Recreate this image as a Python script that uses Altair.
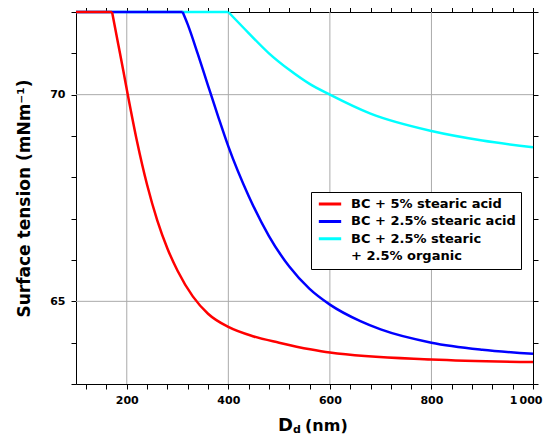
import altair as alt
import pandas as pd

# ---- data ----
series = ["BC + 5% stearic acid", "BC + 2.5% stearic acid", "BC + 2.5% stearic"]
series_cont = "+ 2.5% organic"          # second legend line of the third series
colors = ["#ff0000", "#0000ff", "#00ffff"]

red_x = [100, 171, 183, 193, 202, 220, 240, 260, 280, 300, 330, 360, 400, 450, 500, 561, 600, 800, 1000]
red_y = [72.0, 72.0, 71.23, 70.59, 70.0, 68.88, 67.82, 66.96, 66.28, 65.74, 65.12, 64.70, 64.38,
         64.15, 64.00, 63.84, 63.76, 63.59, 63.53]
blue_x = [100, 310, 320, 340, 360, 380, 400, 440, 480, 520, 560, 600, 660, 700, 800, 900, 1000]
blue_y = [72.0, 72.0, 71.7, 70.98, 70.22, 69.47, 68.75, 67.55, 66.58, 65.84, 65.30, 64.92, 64.52,
          64.32, 64.00, 63.83, 63.73]
cyan_x = [100, 400, 440, 480, 520, 560, 600, 680, 800, 900, 1000]
cyan_y = [72.0, 72.0, 71.49, 71.00, 70.60, 70.26, 70.0, 69.54, 69.12, 68.89, 68.73]

x_ticks = list(range(120, 1001, 40))
y_ticks = list(range(63, 73))
x_grid = [200, 400, 600, 800]
y_grid = [65, 70]
x_domain = [100, 1000]
y_domain = [63, 72]

# ---- build table (cyan first so red is drawn on top) ----
# each curve = flat plateau segment + decreasing segment (sharp corner at the onset)
rows = []
for name, xs_, ys_ in [(series[2], cyan_x, cyan_y), (series[1], blue_x, blue_y), (series[0], red_x, red_y)]:
    for i, (a, b) in enumerate(zip(xs_, ys_)):
        if i <= 1:
            rows.append({"series": name, "seg": name + "|flat", "d": a, "st": b, "i": i})
        if i >= 1:
            rows.append({"series": name, "seg": name + "|drop", "d": a, "st": b, "i": i})
df = pd.DataFrame(rows)

FONT = "DejaVu Sans"
W, H = 457, 372

xs = alt.Scale(domain=x_domain, nice=False, zero=False)
ys = alt.Scale(domain=y_domain, nice=False, zero=False)

common_axis = dict(tickSize=5, tickColor="black", domainColor="black", grid=False,
                   labelFont=FONT, labelFontWeight="bold", labelFontSize=11, labelColor="black")

grid_x = alt.Chart(pd.DataFrame({"g": x_grid})).mark_rule(color="#aaaaaa", strokeWidth=1).encode(
    x=alt.X("g:Q", scale=xs,
            axis=alt.Axis(orient="top", values=x_ticks, labels=False, title=None, **common_axis))
)
grid_y = alt.Chart(pd.DataFrame({"g": y_grid})).mark_rule(color="#aaaaaa", strokeWidth=1).encode(
    y=alt.Y("g:Q", scale=ys,
            axis=alt.Axis(orient="right", values=y_ticks, labels=False, title=None, **common_axis))
)

pad = "\u00a0\u00a0\u00a0\u00a0\u2009"
lines = alt.Chart(df).mark_line(strokeWidth=2.5, interpolate="monotone").encode(
    x=alt.X("d:Q", scale=xs,
            axis=alt.Axis(orient="bottom", values=x_ticks, title=None, labelFlush=True, labelFlushOffset=9,
                          labelOverlap=False, labelPadding=5,
                          labelExpr="datum.value % 200 == 0 ? (datum.value == 1000 ? '1\u2009000' : datum.label) : ''",
                          **common_axis)),
    y=alt.Y("st:Q", scale=ys,
            axis=alt.Axis(orient="left", values=y_ticks, title="Surface tension (mNm\u207b\u00b9)",
                          labelPadding=6, labelOverlap=False, labelFlush=False,
                          labelExpr="(datum.value == 65 || datum.value == 70) ? datum.label : ''",
                          titleFont=FONT, titleFontWeight="bold", titleFontSize=17, titleColor="black",
                          titlePadding=16, **common_axis)),
    color=alt.Color("series:N",
                    scale=alt.Scale(domain=series + [series_cont], range=colors + ["transparent"]),
                    legend=alt.Legend(title=None, orient="none", legendX=235, legendY=180,
                                      direction="vertical",
                                      strokeColor="black", fillColor="white", padding=5,
                                      symbolType="stroke", symbolStrokeWidth=3, symbolSize=500,
                                      symbolOffset=1, labelOffset=8, rowPadding=3.4, clipHeight=14,
                                      labelFont=FONT, labelFontWeight="bold", labelFontSize=13,
                                      labelColor="black", labelLimit=400,
                                      labelExpr="(datum.label == '" + series_cont +
                                                "' ? '\u00a0\u00a0\u00a0\u00a0\u2002' + datum.label : datum.label) + '" + pad + "'")),
    detail="seg:N",
    order="i:Q",
)

tx = pd.DataFrame({"k": [0]})
t_D = alt.Chart(tx).mark_text(text="D", font=FONT, fontWeight="bold", fontSize=18, align="left",
                              baseline="alphabetic", color="black").encode(x=alt.value(202), y=alt.value(419))
t_d = alt.Chart(tx).mark_text(text="d", font=FONT, fontWeight="bold", fontSize=11, align="left",
                              baseline="alphabetic", color="black").encode(x=alt.value(217), y=alt.value(421))
t_nm = alt.Chart(tx).mark_text(text="(nm)", font=FONT, fontWeight="bold", fontSize=16, align="left",
                               baseline="alphabetic", color="black").encode(x=alt.value(229), y=alt.value(419))

chart = alt.layer(grid_x, grid_y, lines, t_D, t_d, t_nm).resolve_axis(
    x="independent", y="independent"
).properties(
    width=W, height=H,
    autosize=alt.AutoSizeParams(type="none"),
    padding={"left": 68, "top": 4, "right": 10, "bottom": 52},
).configure_view(stroke=None).configure(background="white")

chart.save("out.html", embed_options={"renderer": "svg", "actions": False})
